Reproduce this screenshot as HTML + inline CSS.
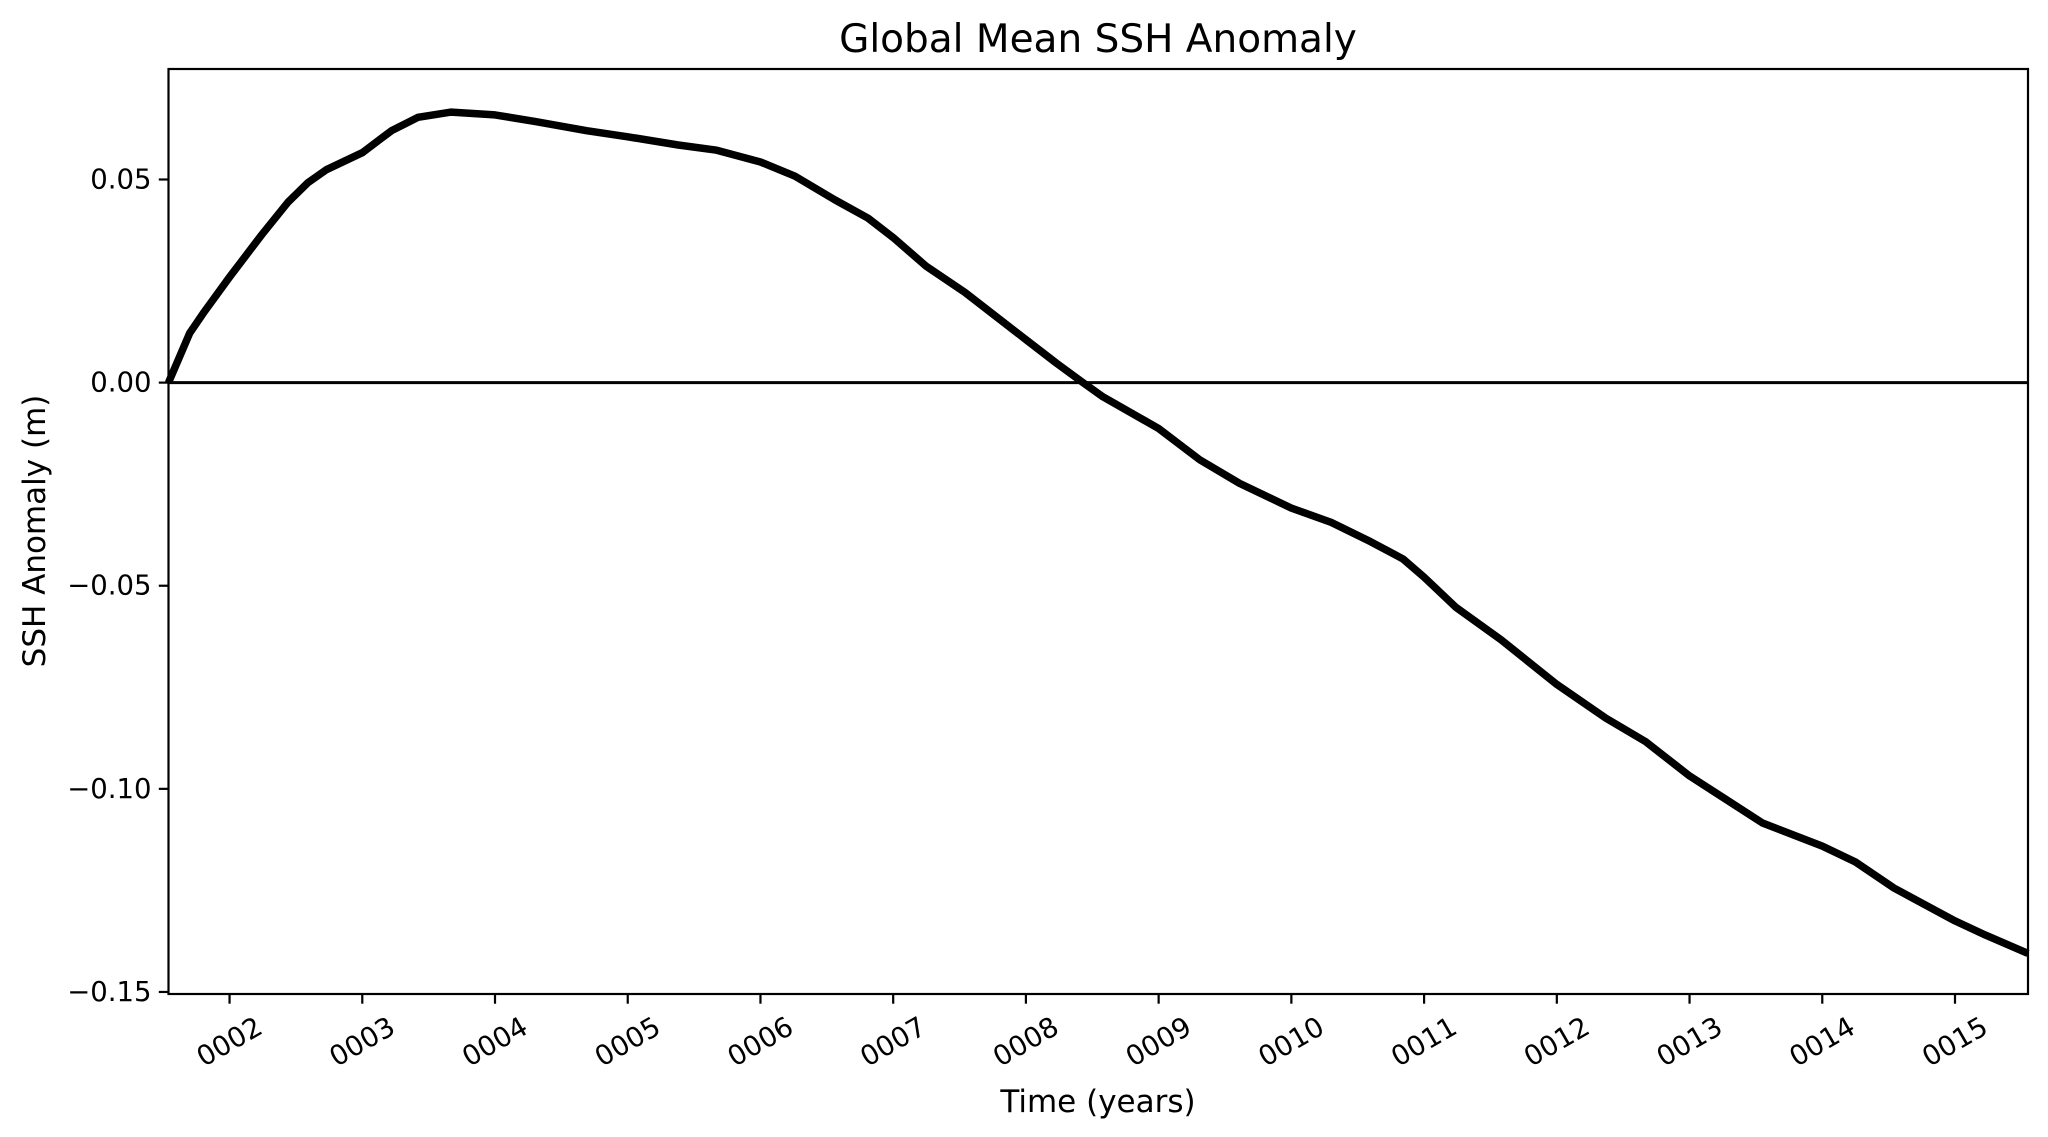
<!DOCTYPE html>
<html><head><meta charset="utf-8"><style>
html,body{margin:0;padding:0;background:#fff;}
svg{display:block;font-family:"DejaVu Sans","Liberation Sans",sans-serif;}
</style></head><body>
<svg id="chart" width="2048" height="1137" viewBox="0 0 2048 1137" xmlns="http://www.w3.org/2000/svg">
<rect x="0" y="0" width="2048" height="1137" fill="#fff"/>
<text x="1098" y="52" font-size="39" text-anchor="middle">Global Mean SSH Anomaly</text>
<text x="1098" y="1112" font-size="31" text-anchor="middle">Time (years)</text>
<text transform="translate(45,531) rotate(-90)" font-size="31" text-anchor="middle">SSH Anomaly (m)</text>
<g id="xticks"></g>
<g id="yticks"></g>
<g id="plot"></g>
</svg>
<script>
const years = [1.54,1.70,1.80,2.0,2.24,2.44,2.59,2.73,3.0,3.22,3.42,3.67,4.0,4.3,4.69,5.0,5.38,5.67,6.0,6.26,6.56,6.81,7.0,7.25,7.54,8.0,8.23,8.43,8.58,9.0,9.31,9.61,10.0,10.3,10.6,10.84,11.0,11.24,11.58,12.0,12.37,12.67,13.0,13.26,13.55,14.0,14.25,14.54,15.0,15.23,15.55];
const sshValues = [0,0.0122,0.017,0.026,0.0363,0.0444,0.0492,0.0524,0.0566,0.062,0.0653,0.0666,0.0659,0.0643,0.062,0.0605,0.0585,0.0572,0.0543,0.0508,0.045,0.0405,0.0357,0.0286,0.0222,0.0106,0.0048,0,-0.0035,-0.0113,-0.019,-0.0248,-0.0309,-0.0344,-0.0392,-0.0434,-0.0479,-0.0553,-0.0633,-0.0743,-0.0826,-0.0884,-0.0968,-0.1023,-0.1084,-0.1141,-0.118,-0.1244,-0.1325,-0.136,-0.1405];
const xTickValues = [2,3,4,5,6,7,8,9,10,11,12,13,14,15];
const xTickLabels = ["0002","0003","0004","0005","0006","0007","0008","0009","0010","0011","0012","0013","0014","0015"];
const yTickValues = [0.05,0,-0.05,-0.1,-0.15];
const yTickLabels = ["0.05","0.00","\u22120.05","\u22120.10","\u22120.15"];

const L=168.5,R=2028,T=69,B=994;
const X0=1.54,X1=15.55,Y0=-0.1505,Y1=0.0772;
function sx(v){return L+(v-X0)/(X1-X0)*(R-L);}
function sy(v){return B-(v-Y0)/(Y1-Y0)*(B-T);}
const NS="http://www.w3.org/2000/svg";
function mk(tag,attrs,parent){const e=document.createElementNS(NS,tag);for(const k in attrs)e.setAttribute(k,attrs[k]);parent.appendChild(e);return e;}
const plot=document.getElementById('plot'),xg=document.getElementById('xticks'),yg=document.getElementById('yticks');

const zl=mk('line',{x1:L,x2:R,y1:sy(0),y2:sy(0),stroke:'#000','stroke-width':3},plot);



let d='';
years.forEach((y,i)=>{d+=(i?'L':'M')+sx(y).toFixed(1)+','+sy(sshValues[i]).toFixed(1);});
const ln=mk('path',{d:d,fill:'none',stroke:'#000','stroke-width':7.5,'stroke-linejoin':'round','stroke-linecap':'butt'},plot);



const fr=mk('rect',{x:L,y:T,width:R-L,height:B-T,fill:'none',stroke:'#000','stroke-width':2.2},plot);



xTickValues.forEach((v,i)=>{
  const x=sx(v);
  const t=mk('line',{x1:x,x2:x,y1:B,y2:B+9.7,stroke:'#000','stroke-width':2.2},xg);
  
  
  const lb=mk('text',{transform:`translate(${x},${1042}) rotate(-30)`,'font-size':27.5,'text-anchor':'middle','dominant-baseline':'central'},xg);
  lb.textContent=xTickLabels[i];
  
  
});
yTickValues.forEach((v,i)=>{
  const y=sy(v);
  const t=mk('line',{x1:L-9.7,x2:L,y1:y,y2:y,stroke:'#000','stroke-width':2.2},yg);
  
  
  const lb=mk('text',{x:L-17,y:y,'font-size':27.5,'text-anchor':'end','dominant-baseline':'central'},yg);
  lb.textContent=yTickLabels[i];
  
  
});
</script>
</body></html>
